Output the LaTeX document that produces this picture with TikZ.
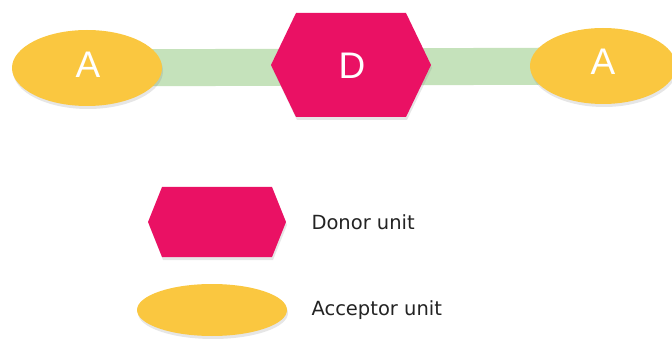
\documentclass[tikz,border=0pt]{standalone}
\usepackage{fontspec}
\setmainfont{DejaVu Sans}
\newfontfamily\unitfont{Liberation Sans}
\usepackage{tikz}
\usetikzlibrary{shapes,positioning,calc,shadows,backgrounds}

\definecolor{donorpink}{RGB}{234,17,100}
\definecolor{acceptoryellow}{RGB}{250,199,64}
\definecolor{bondgreen}{RGB}{197,226,187}
\definecolor{legendtext}{RGB}{35,35,35}

% flat-topped hexagon around a named point: #1 centre, #2 half width, #3 half top edge, #4 half height
\newcommand{\donorhex}[4]{%
  \fill[donorpink, drop shadow={opacity=0.2, shadow xshift=1pt, shadow yshift=-3pt}]
    ($(#1)+(-#2,0)$) -- ($(#1)+(-#3,-#4)$) -- ($(#1)+(#3,-#4)$) --
    ($(#1)+(#2,0)$) -- ($(#1)+(#3,#4)$) -- ($(#1)+(-#3,#4)$) -- cycle;}

\begin{document}
\begin{tikzpicture}[
    x=1pt, y=-1pt,
    acceptor/.style={ellipse, fill=acceptoryellow, inner sep=0pt,
        drop shadow={opacity=0.2, shadow xshift=1pt, shadow yshift=-3pt}},
    unitlabel/.style={text=white, font=\unitfont\fontsize{37}{37}\selectfont},
    bond/.style={line width=37pt, bondgreen},
    legend/.style={text=legendtext, font=\fontsize{19.5}{21}\selectfont, anchor=west}
]
    \useasboundingbox (0,0) rectangle (672,339);

    % Acceptor - donor - acceptor chain
    \node[acceptor, minimum width=150pt, minimum height=76pt] (accL) at (87,68) {};
    \node[acceptor, minimum width=146pt, minimum height=76pt] (accR) at (603,66) {};
    \coordinate (don) at (351,65);
    \begin{scope}[on background layer]
        \draw[bond] (accL.center) -- (accR.center);
    \end{scope}
    \donorhex{don}{80}{55}{52}
    \node[unitlabel] (aL) at ($(accL)+(1,-3)$) {A};
    \node[unitlabel] (aR) at ($(accR)+(0,-4)$) {A};
    \node[unitlabel] (dL) at ($(don)+(1,1)$) {D};

    % Legend
    \coordinate (legdon) at (217,222);
    \donorhex{legdon}{69}{55}{35}
    \node[acceptor, minimum width=150pt, minimum height=52pt] (legacc) at (212,310) {};
    \node[legend] (txtdon) at (308,222) {Donor unit};
    \node[legend] (txtacc) at (308,310) {Acceptor unit};
\end{tikzpicture}
\end{document}
